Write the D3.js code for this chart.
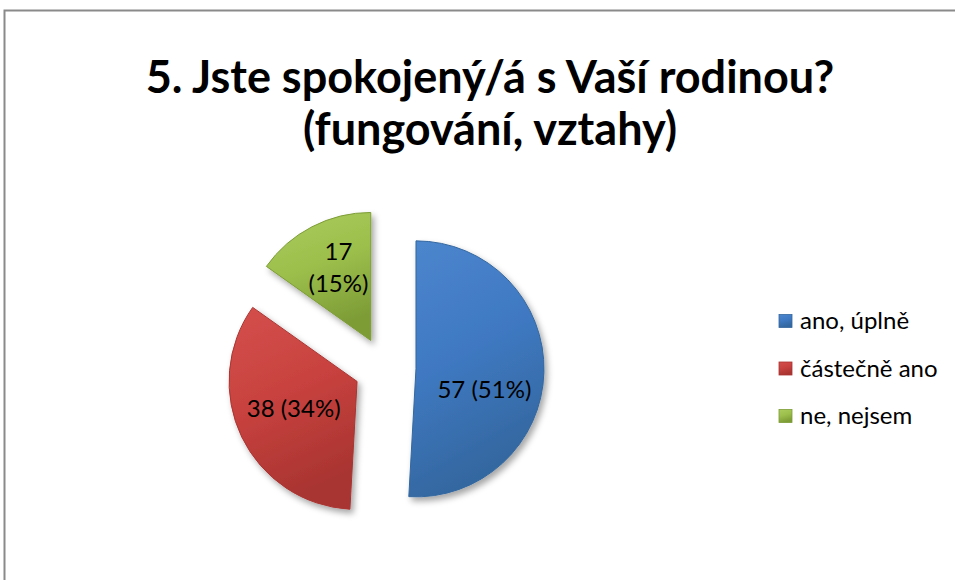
<!DOCTYPE html>
<html><head><meta charset="utf-8">
<script src="https://cdn.jsdelivr.net/npm/d3@7"></script>
<style>body{margin:0;background:#fff;overflow:hidden}</style>
</head><body>
<svg id="c" width="955" height="580"></svg>
<script>
// ---- data ----
const categories = ["ano, úplně", "částečně ano", "ne, nejsem"];
const values = [57, 38, 17];
const percentLabels = ["51%", "34%", "15%"];
const titleLines = ["5. Jste spokojený/á s Vaší rodinou?", "(fungování, vztahy)"];

// ---- style / layout ----
const colors = ["#3F79C2", "#C8423F", "#9CBF4C"];
const colorsLight = ["#4C86CD", "#D4504C", "#A9CC5C"];
const colorsDark = ["#33679F", "#A93431", "#7D9C36"];
const W = 955, H = 580;
const cx = 385, cy = 368, R = 128, explode = 31;
const labelFrac = 0.55;
const labelNudge = [[-2, 19], [0, -3], [0, -10]];
const font = "Lato, 'Open Sans', sans-serif";

const svg = d3.select("#c");
const defs = svg.append("defs");
const f = defs.append("filter").attr("id", "sh").attr("x", "-20%").attr("y", "-20%").attr("width", "150%").attr("height", "150%");
f.append("feDropShadow").attr("dx", 3).attr("dy", 4).attr("stdDeviation", 3).attr("flood-color", "#000").attr("flood-opacity", 0.35);
colors.forEach((c, i) => {
  const g = defs.append("linearGradient").attr("id", "g" + i).attr("x1", 0).attr("y1", 0).attr("x2", 0.3).attr("y2", 1);
  g.append("stop").attr("offset", "0%").attr("stop-color", colorsLight[i]);
  g.append("stop").attr("offset", "50%").attr("stop-color", c);
  g.append("stop").attr("offset", "100%").attr("stop-color", colorsDark[i]);
});

// border (chart area continues beyond canvas)
svg.append("path").attr("d", `M4.5,${H + 5} V10.5 H${W + 5}`).attr("fill", "none").attr("stroke", "#8a8a8a").attr("stroke-width", 2);

// title
const tt = svg.append("text").attr("text-anchor", "middle").attr("font-family", font)
  .attr("font-weight", 700).attr("font-size", 45).attr("fill", "#000");
tt.selectAll("tspan").data(titleLines).join("tspan")
  .attr("x", 490).attr("y", (d, i) => 93 + i * 52).text(d => d);

// pie
const pie = d3.pie().sort(null).value(d => d)(values);
const arc = d3.arc().innerRadius(0).outerRadius(R);
const slices = svg.append("g").attr("transform", `translate(${cx},${cy})`);
const sg = slices.selectAll("g").data(pie).join("g")
  .attr("transform", d => {
    const m = (d.startAngle + d.endAngle) / 2;
    return `translate(${explode * Math.sin(m)},${-explode * Math.cos(m)})`;
  });
sg.append("path").attr("d", arc).attr("fill", (d, i) => `url(#g${i})`).attr("filter", "url(#sh)")
  .attr("stroke", (d, i) => colorsDark[i]).attr("stroke-width", 1);

// labels
sg.each(function (d, i) {
  const m = (d.startAngle + d.endAngle) / 2;
  const lx = labelFrac * R * Math.sin(m) + labelNudge[i][0];
  const ly = -labelFrac * R * Math.cos(m) + labelNudge[i][1];
  const t = d3.select(this).append("text").attr("text-anchor", "middle").attr("font-family", font)
    .attr("font-size", 24).attr("fill", "#000");
  const lines = i === 2 ? [String(values[i]), `(${percentLabels[i]})`] : [`${values[i]} (${percentLabels[i]})`];
  const lh = 32;
  t.selectAll("tspan").data(lines).join("tspan")
    .attr("x", lx).attr("y", (l, k) => ly + 8 + (k - (lines.length - 1) / 2) * lh).text(l => l);
});

// legend
const lg = svg.append("g");
const ly0 = 321, lstep = 47.5;
categories.forEach((c, i) => {
  const y = ly0 + i * lstep;
  lg.append("rect").attr("x", 779).attr("y", y - 6.5).attr("width", 13).attr("height", 13)
    .attr("fill", `url(#g${i})`).attr("stroke", colorsDark[i]).attr("stroke-width", 0.8);
  lg.append("text").attr("x", 800).attr("y", y + 8).attr("font-family", font).attr("font-size", 24)
    .attr("fill", "#000").text(c);
});
</script>
</body></html>
